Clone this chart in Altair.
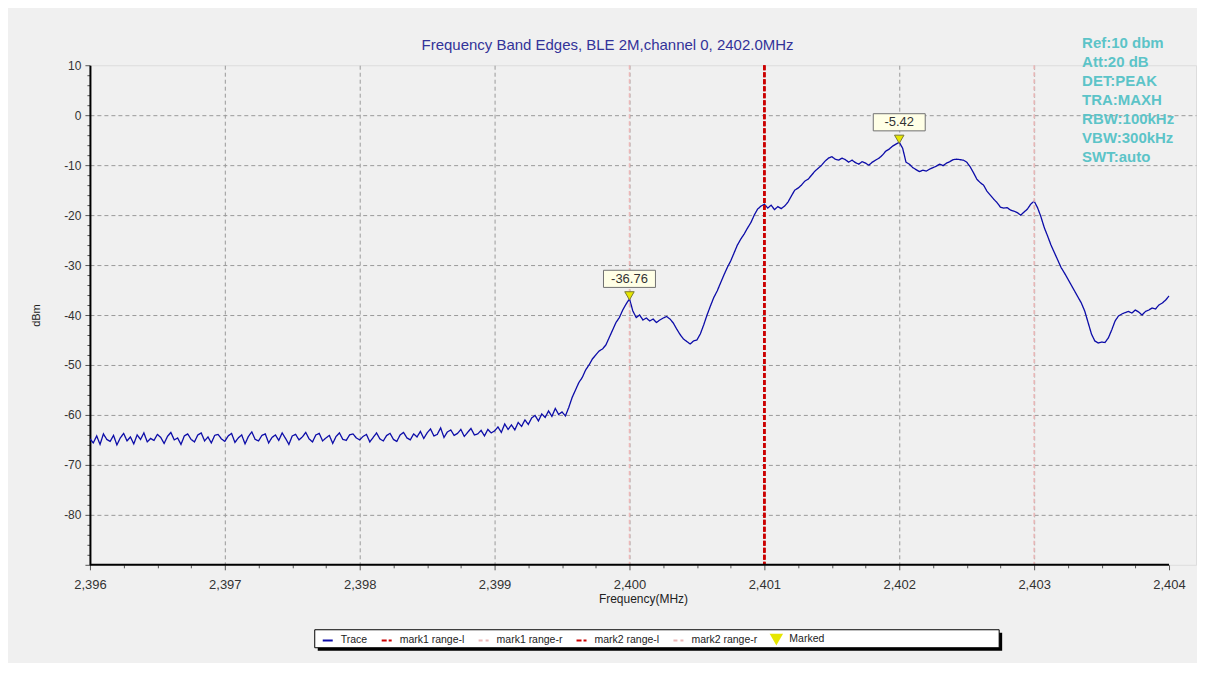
import altair as alt
import pandas as pd

title_text = "Frequency Band Edges, BLE 2M,channel 0, 2402.0MHz"
info_lines = ["Ref:10 dbm", "Att:20 dB", "DET:PEAK", "TRA:MAXH",
              "RBW:100kHz", "VBW:300kHz", "SWT:auto"]

# sweep: 2396.000 MHz .. 2404.000 MHz, 0.025 MHz per point
sweep_start = 2396.0
sweep_step = 0.025
trace_dbm = [
    # 2396.000 - 2396.975
    -64.8, -65.6, -64.2, -65.9, -63.8, -64.9, -65.3, -64.1, -66.0, -64.6,
    -63.7, -65.2, -64.4, -65.8, -64.0, -64.9, -63.6, -65.4, -64.7, -65.1,
    -63.9, -64.5, -65.7, -64.3, -63.5, -65.0, -64.6, -65.9, -64.2, -63.8,
    -64.9, -65.4, -64.0, -63.6, -65.2, -64.4, -65.6, -64.1, -63.9, -64.8,
    # 2397.000 - 2397.975
    -65.3, -64.2, -63.7, -65.5, -64.6, -64.0, -65.8, -64.3, -63.4, -64.9,
    -65.2, -64.1, -63.8, -65.6, -64.5, -64.0, -65.1, -63.6, -64.7, -65.9,
    -64.2, -63.9, -65.0, -64.4, -63.5, -64.8, -65.4, -64.0, -63.7, -65.2,
    -64.6, -64.1, -65.7, -64.3, -63.6, -64.9, -65.1, -64.0, -63.8, -64.6,
    # 2398.000 - 2398.975
    -65.0, -64.3, -63.9, -65.4, -64.5, -63.6, -64.8, -65.2, -64.1, -63.7,
    -64.9, -65.3, -64.0, -63.5, -64.6, -65.0, -63.8, -64.4, -63.3, -64.7,
    -63.6, -62.8, -64.2, -63.9, -62.6, -64.5, -63.4, -63.0, -64.1, -63.7,
    -62.9, -64.3, -63.5, -62.7, -64.0, -63.8, -63.1, -64.2, -62.9, -63.6,
    # 2399.000 - 2399.525
    -63.2, -62.4, -63.5, -61.8, -62.9, -62.0, -63.0, -61.5, -62.3, -61.0,
    -61.9, -60.6, -60.1, -61.2, -59.8, -60.5, -59.2, -60.3, -58.7, -59.9,
    -59.4, -60.2,
    # 2399.550 - 2404.000
    -58.5, -56.5, -55.0, -53.5, -52.5, -51.0, -50.0, -48.8, -48.0, -47.2,
    -46.8, -46.0, -44.5, -43.0, -41.5, -40.5, -39.0, -37.8, -36.76, -39.2,
    -40.5, -40.0, -41.0, -40.6, -41.2, -40.8, -41.5, -41.0, -40.6, -40.3,
    -40.8, -41.6, -42.8, -43.9, -44.8, -45.3, -45.8, -45.2, -45.0, -43.8,
    -42.0, -40.0, -38.2, -36.5, -35.2, -33.6, -32.0, -30.5, -29.2, -27.6,
    -26.0, -24.8, -23.8, -22.6, -21.5, -20.0, -18.8, -18.2, -17.8, -18.6,
    -18.0, -18.9, -18.3, -18.7, -18.2, -17.4, -16.2, -15.0, -14.6, -14.0,
    -13.2, -12.8, -12.0, -11.2, -10.6, -10.0, -9.2, -8.6, -8.3, -8.8,
    -9.0, -8.6, -8.9, -9.4, -9.0, -9.5, -9.8, -9.3, -9.6, -10.0,
    -9.4, -9.0, -8.6, -8.0, -7.2, -6.8, -6.2, -5.8, -5.42, -6.6,
    -9.4, -9.8, -10.5, -10.9, -11.3, -11.0, -11.2, -10.8, -10.5, -10.2,
    -9.8, -10.1, -9.6, -9.3, -8.9, -8.8, -8.9, -9.0, -9.4, -10.3,
    -11.5, -12.8, -13.5, -14.0, -15.2, -16.0, -16.8, -17.5, -18.4, -18.6,
    -18.5, -19.0, -19.2, -19.5, -20.0, -19.4, -18.8, -17.8, -17.2, -18.5,
    -20.3, -22.5, -24.2, -26.0, -27.5, -29.0, -30.5, -31.6, -32.8, -34.0,
    -35.2, -36.4, -37.6, -39.2, -41.5, -43.8, -45.2, -45.6, -45.4, -45.5,
    -44.6, -43.0, -41.2, -40.2, -39.8, -39.5, -39.3, -39.6, -39.0, -39.4,
    -40.0, -39.3, -39.0, -38.6, -38.8, -38.0, -37.6, -37.0, -36.2,
]
freq = [round(sweep_start + i * sweep_step, 3) for i in range(len(trace_dbm))]

series_names = ["Trace", "mark1 range-l", "mark1 range-r", "mark2 range-l",
                "mark2 range-r", "Marked"]
series_colors = ["#0c0ca8", "#cc0000", "#ecb8b8", "#cc0000", "#ecb8b8", "#e6e600"]
series_dashes = [[1, 0], [5, 2], [4, 3], [5, 2], [4, 3], [1, 0]]
series_shapes = ["stroke", "stroke", "stroke", "stroke", "stroke", "triangle-down"]

range_names = ["mark1 range-l", "mark1 range-r", "mark2 range-l", "mark2 range-r"]
range_freqs = [2401.0, 2400.0, 2401.0, 2403.0]
range_widths = [2.5, 1.5, 2.5, 1.5]

marker_freqs = [2400.0, 2402.0]
marker_dbm = [-36.76, -5.42]
marker_labels = ["-36.76", "-5.42"]

x_ticks = [2396 + i * 0.25 for i in range(33)]
y_ticks = list(range(-90, 11, 2))

trace_df = pd.DataFrame({"freq": freq, "dbm": trace_dbm, "series": "Trace"})
range_df = pd.DataFrame({"freq": range_freqs, "series": range_names, "w": range_widths})
marker_df = pd.DataFrame({"freq": marker_freqs, "dbm": marker_dbm,
                          "label": marker_labels, "series": "Marked"})
one_row = pd.DataFrame({"a": [0]})

FONT = "Liberation Sans"

legend = alt.Legend(
    title=None, orient="none", legendX=229, legendY=565, direction="horizontal",
    padding=3, columnPadding=10,
    symbolSize=100, symbolStrokeWidth=2, labelFontSize=10.5, labelColor="#222",
    labelFont=FONT, labelOffset=7, labelLimit=300,
)
color_enc = alt.Color("series:N", scale=alt.Scale(domain=series_names, range=series_colors),
                      legend=legend)
dash_enc = alt.StrokeDash("series:N", scale=alt.Scale(domain=series_names, range=series_dashes),
                          legend=legend)
shape_enc = alt.Shape("series:N", scale=alt.Scale(domain=series_names, range=series_shapes),
                      legend=legend)

x_axis = alt.Axis(
    values=x_ticks, tickCount=400,
    labelExpr="datum.value % 1 == 0 ? format(datum.value, ',') : ''",
    tickSize={"condition": {"test": "datum.value % 1 == 0", "value": 5}, "value": 3},
    grid=True,
    gridOpacity={"condition": {"test": "datum.value % 1 == 0 && datum.value > 2396 && datum.value < 2404",
                               "value": 1}, "value": 0},
    gridDash=[4, 3], gridColor="#9a9a9a", gridWidth=1,
    domain=False, tickColor="#555", labelFontSize=13, labelColor="#333", labelFont=FONT,
    labelPadding=9, labelOverlap=False, labelFlush=False,
    title="Frequency(MHz)", titleFontSize=12, titleFontWeight="normal", titleColor="#222",
    titleFont=FONT, titlePadding=2,
)
y_axis = alt.Axis(
    values=y_ticks, tickCount=400,
    labelExpr="datum.value % 10 == 0 && datum.value > -90 ? datum.value : ''",
    tickSize={"condition": {"test": "datum.value % 10 == 0", "value": 5}, "value": 3},
    grid=True,
    gridOpacity={"condition": {"test": "datum.value % 10 == 0 && datum.value > -90 && datum.value < 10",
                               "value": 1}, "value": 0},
    gridDash=[4, 3], gridColor="#9a9a9a", gridWidth=1,
    domainColor="black", domainWidth=2, tickColor="#555",
    labelFontSize=12, labelColor="#333", labelFont=FONT, labelPadding=4,
    labelOverlap=False, labelFlush=False,
    title="dBm", titleFontSize=11, titleFontWeight="normal", titleColor="#222",
    titleFont=FONT, titlePadding=22,
)

x_enc = alt.X("freq:Q", scale=alt.Scale(domain=[2396, 2404.2], nice=False, zero=False), axis=x_axis)
y_enc = alt.Y("dbm:Q", scale=alt.Scale(domain=[-90, 10], nice=False, zero=False), axis=y_axis)

trace = alt.Chart(trace_df).mark_line(strokeWidth=1.3, clip=True).encode(
    x=x_enc, y=y_enc, color=color_enc, strokeDash=dash_enc)

rules = alt.Chart(range_df).mark_rule().encode(
    x="freq:Q", color=color_enc, strokeDash=dash_enc,
    strokeWidth=alt.StrokeWidth("w:Q", scale=None, legend=None))

axis_line = alt.Chart(one_row).mark_rule(color="black", strokeWidth=2).encode(
    x=alt.datum(2396), x2=alt.datum(2404), y=alt.datum(-90))

boxes = alt.Chart(marker_df).mark_point(
    shape="M-1,-0.33L1,-0.33L1,0.33L-1,0.33Z", size=2704, filled=True,
    fill="#ffffe6", stroke="#707070", strokeWidth=1, opacity=1, yOffset=-20,
).encode(x="freq:Q", y="dbm:Q")

box_text = alt.Chart(marker_df).mark_text(dy=-20, fontSize=13, color="#333", font=FONT).encode(
    x="freq:Q", y="dbm:Q", text="label:N")

markers = alt.Chart(marker_df).mark_point(
    filled=True, size=90, stroke="#7a7a30", strokeWidth=1, opacity=1, yOffset=-3,
).encode(x="freq:Q", y="dbm:Q", color=color_enc, shape=shape_enc)

title = alt.Chart(one_row).mark_text(
    align="center", baseline="middle", fontSize=15, color="#333399", font=FONT,
).encode(x=alt.value(518), y=alt.value(-20), text=alt.value(title_text))

info = alt.Chart(one_row).mark_text(
    align="left", baseline="top", lineBreak="\n", lineHeight=19, fontSize=15,
    fontWeight="bold", color="#5cc4c8", font=FONT,
).encode(x=alt.value(993), y=alt.value(-29), text=alt.value("\n".join(info_lines)))

# legend frame: drop shadow on the right / bottom, then white box with black border
legend_shadow = alt.Chart(one_row).mark_rect(color="black").encode(
    x=alt.value(228), x2=alt.value(913), y=alt.value(568), y2=alt.value(586))
legend_box = alt.Chart(one_row).mark_rect(fill="white", stroke="black", strokeWidth=1).encode(
    x=alt.value(225), x2=alt.value(910), y=alt.value(565), y2=alt.value(583))

chart = alt.layer(legend_shadow, legend_box, trace, rules, axis_line, boxes, box_text, markers,
                  title, info).properties(
    width=1107, height=500,
    autosize=alt.AutoSizeParams(type="none"),
    padding={"left": 82, "top": 57, "right": 1, "bottom": 98},
    background="#f0f0f0",
).configure_view(fill="white", stroke=None).configure(font=FONT)

chart.save("out.html", embed_options={"renderer": "svg", "actions": False})
